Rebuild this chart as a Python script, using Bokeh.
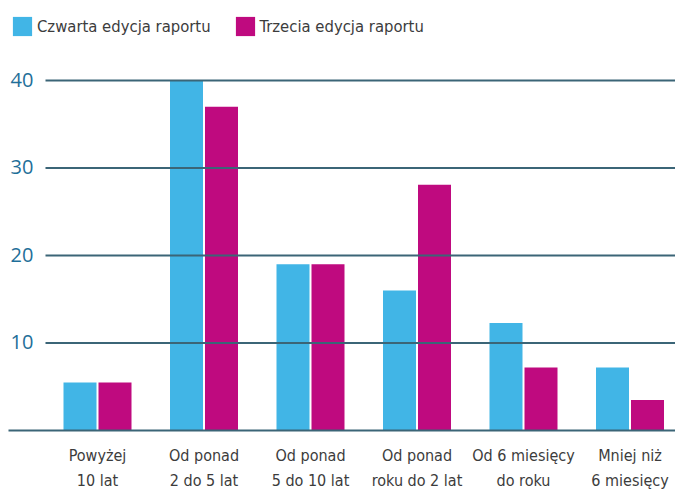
from bokeh.plotting import figure
from bokeh.models import Range1d, Legend, LegendItem, ColumnDataSource
from bokeh.core.properties import value
from bokeh.transform import dodge
from bokeh.embed import file_html
from bokeh.resources import INLINE

categories = ["Powyżej\n10 lat", "Od ponad\n2 do 5 lat", "Od ponad\n5 do 10 lat",
              "Od ponad\nroku do 2 lat", "Od 6 miesięcy\ndo roku", "Mniej niż\n6 miesięcy"]
czwarta = [5.5, 40.0, 19.0, 16.0, 12.3, 7.2]
trzecia = [5.5, 37.0, 19.0, 28.1, 7.2, 3.5]
y_ticks = [10, 20, 30, 40]
series_names = ["Czwarta edycja raportu", "Trzecia edycja raportu"]

BLUE = "#41b5e6"
MAGENTA = "#bf0a7f"
GRID = "#3b6577"
TEXT = "#3c3c3c"
YLAB = "#1f6f99"
COND = "DejaVu Sans Condensed"

W, H = 675, 491
px_per_x = 106.5
x_start = -97 / px_per_x
x_end = x_start + W / px_per_x
px_per_y = 8.75
y_end = 40 + 80 / px_per_y
y_start = y_end - H / px_per_y

idx = list(range(len(categories)))
src = ColumnDataSource(dict(x=idx, a=czwarta, b=trzecia))

p = figure(width=W, height=H, output_backend="svg", toolbar_location=None,
           x_range=Range1d(x_start, x_end), y_range=Range1d(y_start, y_end),
           min_border=0, x_axis_type=None, y_axis_type=None)
p.outline_line_color = None
p.xgrid.visible = False
p.ygrid.visible = False
p.background_fill_color = "white"
p.border_fill_color = "white"

off = 17.5 / px_per_x
bw = 33 / px_per_x
r1 = p.vbar(x=dodge("x", -off), top="a", width=bw, source=src, color=BLUE, line_color=None)
r2 = p.vbar(x=dodge("x", off), top="b", width=bw, source=src, color=MAGENTA, line_color=None)

# horizontal gridlines drawn above the bars
gx0 = x_start + 45 / px_per_x
p.segment(x0=[gx0] * len(y_ticks), x1=[x_end] * len(y_ticks), y0=y_ticks, y1=y_ticks,
          line_color=GRID, line_width=2)
bx0 = x_start + 8 / px_per_x
p.segment(x0=[bx0], x1=[x_end], y0=[0], y1=[0], line_color=GRID, line_width=2)

# y tick labels sitting on their gridlines
p.text(x=[x_start] * len(y_ticks), y=y_ticks, text=[str(t) for t in y_ticks],
       x_offset=10, y_offset=-1, text_align="left", text_baseline="alphabetic",
       text_font=value("Open Sans"), text_font_size="20px", text_color=YLAB)

# category labels under the bars
p.text(x=idx, y=[0] * len(idx), text=categories, y_offset=15,
       text_align="center", text_baseline="top", text_line_height=1.35,
       text_font=value(COND), text_font_size="16px", text_color=TEXT)

legend = Legend(items=[LegendItem(label=series_names[0], renderers=[r1]),
                       LegendItem(label=series_names[1], renderers=[r2])],
                orientation="horizontal", location=(10, H - 14 - 24),
                glyph_width=24, glyph_height=24, padding=0, margin=0, spacing=22,
                label_standoff=3, label_text_font=COND, label_text_font_size="16.5px",
                label_text_color=TEXT, border_line_color=None, background_fill_alpha=0)
p.add_layout(legend)

open("out.html", "w").write(file_html(p, INLINE))
